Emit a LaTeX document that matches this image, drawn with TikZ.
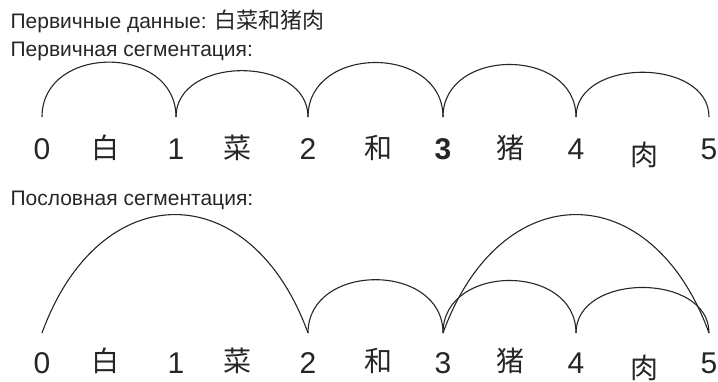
\documentclass[tikz,border=0pt]{standalone}
\usepackage{fontspec}
\setmainfont{Liberation Sans}
\newfontfamily\cjk{Noto Sans CJK SC}

\begin{document}
\begin{tikzpicture}[x=1pt, y=1pt, line width=1.1pt, black!85]
        \tikzstyle{titre}=[anchor=base west, inner sep=0, font=\fontsize{21}{22}\selectfont];
        \tikzstyle{chiffre}=[inner sep=0, font=\fontsize{30}{30}\selectfont];
        \tikzstyle{hanzi}=[inner sep=0, font=\cjk\fontsize{28}{28}\selectfont];

        \useasboundingbox (0,0) rectangle (718,-382);

        \node[titre] (T1) at (10,-29) {Первичные данные: {\cjk\fontsize{22}{22}\selectfont 白菜和猪肉}};
        \node[titre] (T2) at (10,-57) {Первичная сегментация:};
        \node[titre] (T3) at (10,-206) {Пословная сегментация:};

        \foreach \x [count=\i from 0] in {42,176,308,443,576,709}{
          \coordinate (A\i) at (\x,-117);
          \coordinate (B\i) at (\x,-333);
          \node[chiffre] (N\i) at (\x,-149) {\ifnum\i=3 \bfseries\fi\i};
          \node[chiffre] (M\i) at (\x,-363) {\i};
        }
        \foreach \c/\x/\y [count=\i] in {白/105/0, 菜/237/0, 和/378/0, 猪/510/0, 肉/644/7}{
          \node[hanzi] (H\i) at (\x,-148-\y) {\c};
          \node[hanzi] (K\i) at (\x,-361-\y) {\c};
        }

        \foreach \i/\j/\l in {0/1/1.40, 1/2/1.20, 2/3/1.38, 3/4/1.35, 4/5/1.15}{
          \draw (A\i) to[out=90, in=90, looseness=\l] (A\j);
        }
        \foreach \i/\j/\l/\a in {0/2/1.62/70, 2/3/1.35/90, 3/4/1.35/90, 4/5/1.17/90, 3/5/1.62/70}{
          \draw (B\i) to[out=\a, in=180-\a, looseness=\l] (B\j);
        }
\end{tikzpicture}
\end{document}
